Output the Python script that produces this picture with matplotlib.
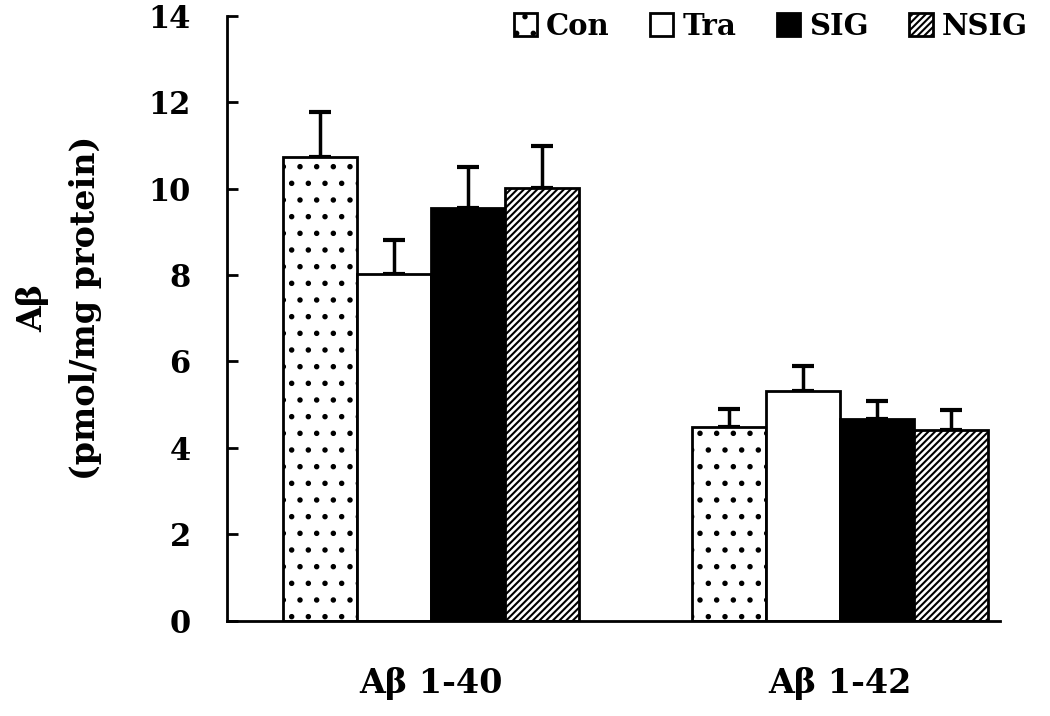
import numpy as np
import matplotlib.pyplot as plt

plt.rcParams['font.family'] = ['DejaVu Serif']
plt.rcParams['font.weight'] = 'bold'
plt.rcParams['axes.labelweight'] = 'bold'
plt.rcParams['hatch.linewidth'] = 1.5

# data
groups = ['Aβ 1-40', 'Aβ 1-42']
series = ['Con', 'Tra', 'SIG', 'NSIG']
means = {
    'Con': [10.72, 4.49],
    'Tra': [8.03, 5.32],
    'SIG': [9.54, 4.67],
    'NSIG': [10.02, 4.42],
}
errs = {
    'Con': [1.06, 0.40],
    'Tra': [0.77, 0.58],
    'SIG': [0.97, 0.42],
    'NSIG': [0.97, 0.46],
}
styles = {
    'Con': dict(color='white', hatch='.'),
    'Tra': dict(color='white', hatch=None),
    'SIG': dict(color='black', hatch=None),
    'NSIG': dict(color='white', hatch='/////'),
}

fig = plt.figure(figsize=(10.5, 7.16), dpi=100)
ax = fig.add_axes([0.216, 0.133, 0.736, 0.845])

x = np.arange(len(groups))
width = 0.181
for i, s in enumerate(series):
    pos = x + (i - 1.5) * width
    ax.bar(pos, means[s], width, color=styles[s]['color'], hatch=styles[s]['hatch'],
           edgecolor='black', linewidth=2, label=s, zorder=2)
    ax.errorbar(pos, means[s], yerr=[np.zeros(2), errs[s]], fmt='none', ecolor='black',
                elinewidth=2.5, capsize=8, capthick=3, zorder=1)

ax.set_xlim(-0.499, 1.39)
ax.set_ylim(0, 14)
ax.set_yticks(range(0, 15, 2))
ax.set_xticks(x)
ax.set_xticklabels(groups, fontsize=24)
ax.tick_params(axis='x', length=0, pad=33)
ax.tick_params(axis='y', direction='in', length=8, width=2, labelsize=22, pad=26)
ax.spines['top'].set_visible(False)
ax.spines['right'].set_visible(False)
ax.spines['left'].set_linewidth(2)
ax.spines['bottom'].set_linewidth(2)
ax.set_ylabel('Aβ\n(pmol/mg protein)', fontsize=24, linespacing=1.75)
ax.yaxis.set_label_coords(-0.162, 0.517)

ax.legend(loc='upper right', bbox_to_anchor=(1.07, 1.05), ncol=4, frameon=False,
          fontsize=21, handlelength=0.8, handleheight=0.8, handletextpad=0.3,
          columnspacing=1.4)

plt.savefig('out.png', dpi=100)
